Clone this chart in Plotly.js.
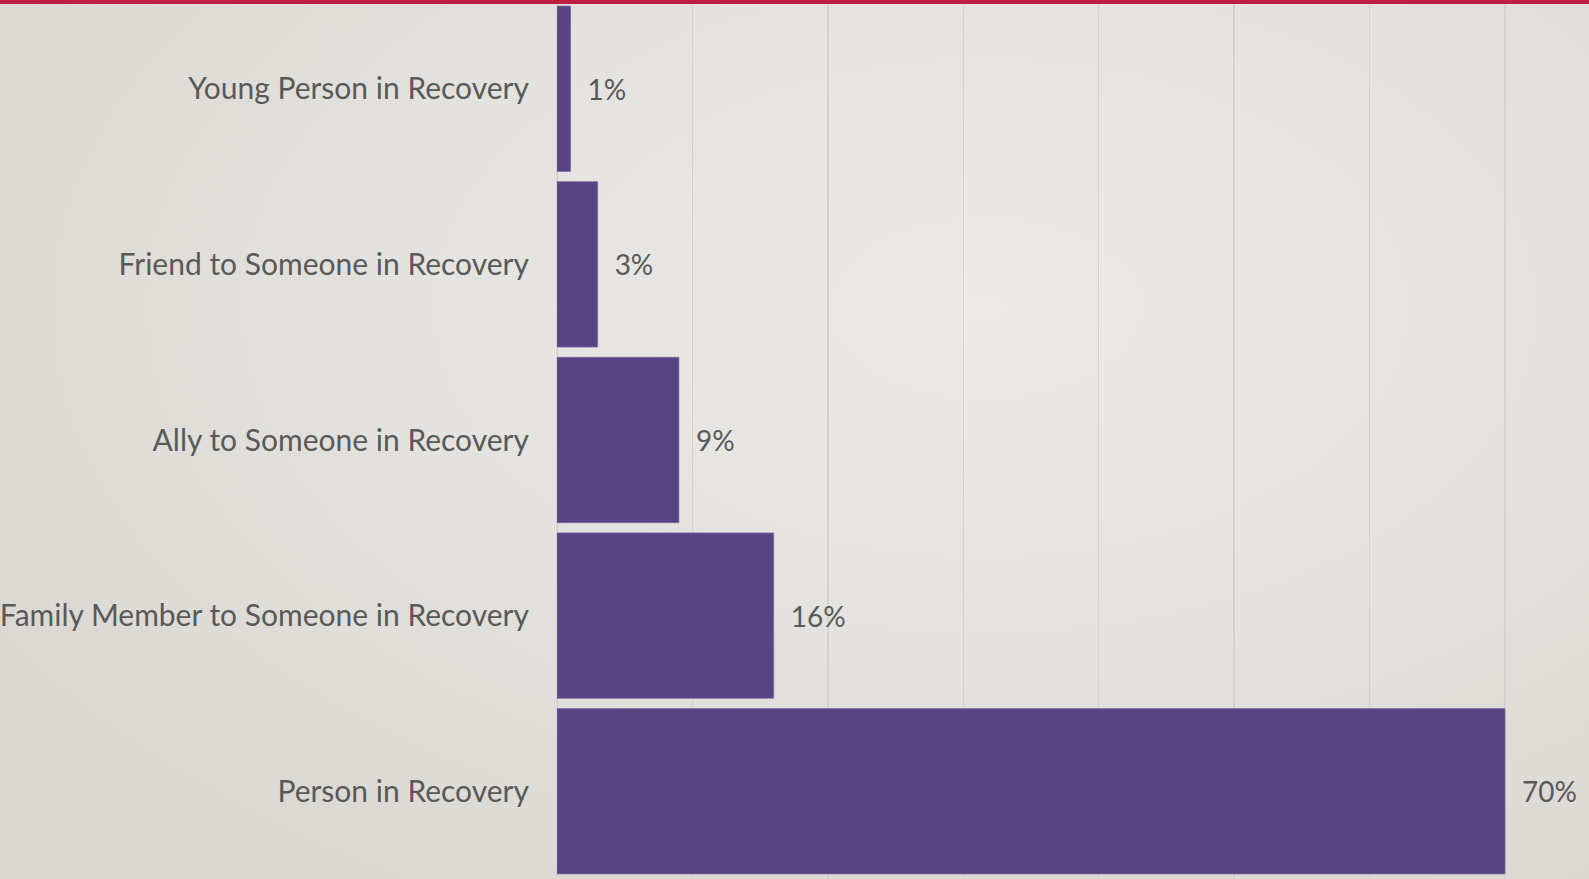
<!DOCTYPE html>
<html>
<head>
<meta charset="utf-8">
<script src="https://cdn.plot.ly/plotly-3.0.1.min.js"></script>
<style>
  html, body { margin: 0; padding: 0; width: 1589px; height: 879px; overflow: hidden; }
  body { background: radial-gradient(ellipse 75% 80% at 62% 35%, #ECEAE7 0%, #E5E3DF 45%, #DAD7D2 100%); }
  #topbar { position: absolute; left: 0; top: 0; width: 1589px; height: 4px; background: #BE1E40; z-index: 10; }
  #chart { position: absolute; left: 0; top: 0; width: 1589px; height: 879px; }
</style>
</head>
<body>
<div id="chart"></div>
<div id="topbar"></div>
<script>
// Data (bottom to top as drawn by Plotly)
const categories = [
  'Person in Recovery',
  'Family Member to Someone in Recovery',
  'Ally to Someone in Recovery',
  'Friend to Someone in Recovery',
  'Young Person in Recovery'
];
const percentValues = [70, 16, 9, 3, 1];

const FONT = 'Lato, "Open Sans", sans-serif';

const trace = {
  type: 'bar',
  orientation: 'h',
  x: percentValues,
  y: categories,
  marker: { color: '#584485', line: { color: '#7C6BA0', width: 0.8 } },
  texttemplate: '\u2002%{x}%',
  textposition: 'outside',
  cliponaxis: false,
  textfont: { family: FONT, size: 28, color: '#595959' },
  hoverinfo: 'none'
};

const layout = {
  width: 1589,
  height: 879,
  margin: { l: 557, r: 0, t: 1, b: 0, pad: 0 },
  paper_bgcolor: 'rgba(0,0,0,0)',
  plot_bgcolor: 'rgba(0,0,0,0)',
  bargap: 0.058,
  showlegend: false,
  font: { family: FONT, size: 30, color: '#595959' },
  xaxis: {
    range: [0, 76.2],
    dtick: 10,
    tick0: 0,
    showgrid: true,
    gridcolor: '#D4D2CE',
    gridwidth: 1.5,
    zeroline: true,
    zerolinecolor: '#D4D2CE',
    zerolinewidth: 1.5,
    showticklabels: false,
    ticks: '',
    fixedrange: true
  },
  yaxis: {
    type: 'category',
    categoryorder: 'array',
    categoryarray: categories,
    showgrid: false,
    zeroline: false,
    ticks: '',
    ticklabelstandoff: 27,
    tickfont: { family: FONT, size: 30, color: '#595959' },
    automargin: false,
    fixedrange: true
  }
};

Plotly.newPlot('chart', [trace], layout, { displayModeBar: false, staticPlot: true });
</script>
</body>
</html>
